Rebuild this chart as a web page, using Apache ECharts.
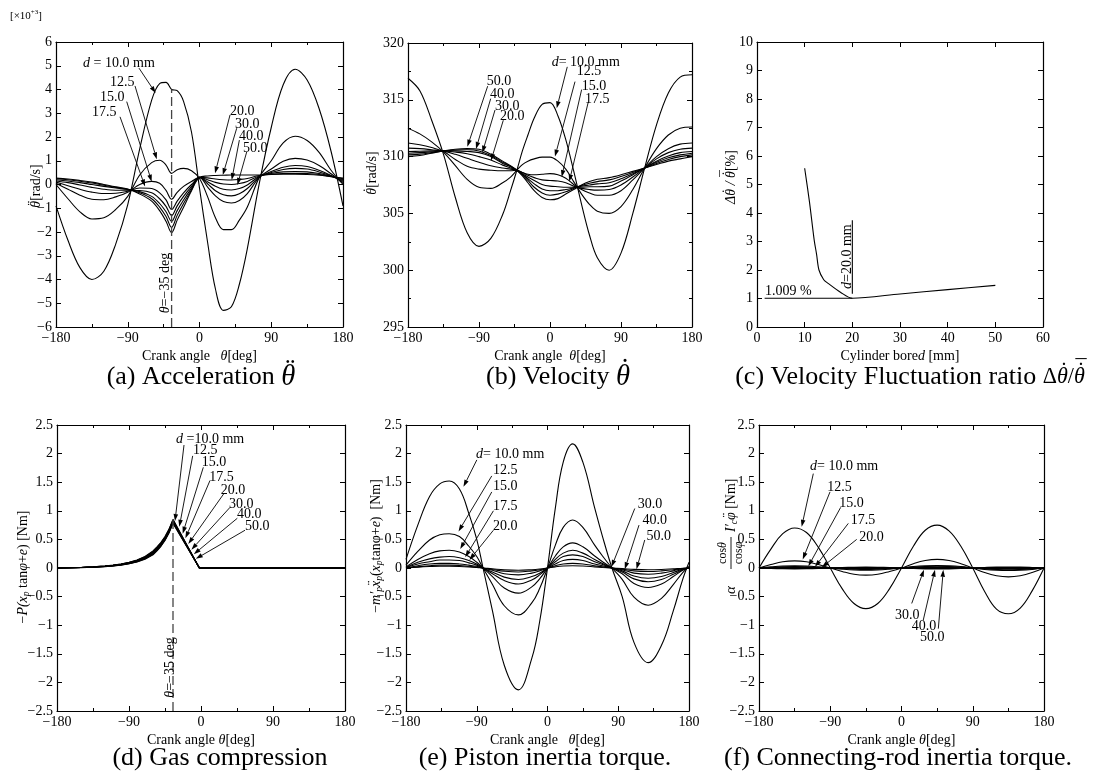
<!DOCTYPE html>
<html>
<head>
<meta charset="utf-8">
<script src="https://cdn.jsdelivr.net/npm/echarts@6/dist/echarts.min.js"></script>
<style>
  html, body { margin: 0; padding: 0; background: #fff; }
  #chart { width: 1099px; height: 776px; }
</style>
</head>
<body>
<div id="chart"></div>
<script>
// crank angle samples [deg]
const thetaAB = [-180,-165,-150,-135,-120,-105,-90,-75,-60,-50,-42,-35,-28,-20,-10,0,10,20,30,40,50,60,75,90,105,120,135,150,165,180];
const thetaD = [-180,-150,-135,-120,-110,-100,-90,-80,-70,-60,-55,-50,-45,-40,-35,-2,180];
const thetaE = [-180,-165,-150,-137,-125,-112,-100,-90,-82,-70,-55,-37,-20,-10,0,10,20,32,45,60,70,82,95,110,128,145,160,172,180];
const thetaF = [-180,-165,-150,-135,-120,-105,-90,-75,-60,-45,-30,-15,0,15,30,45,60,75,90,105,120,135,150,165,180];
const cuspAngle = -35;

// (a) angular acceleration [x10^3 rad/s^2], d = 10 ... 50 mm
const accD10 = [-0.9,-2.35,-3.5,-4.0,-3.65,-2.5,-0.85,1.5,3.55,4.25,4.3,4.0,3.95,3.5,2.2,-0.15,-2.4,-4.4,-5.3,-5.15,-4.2,-2.7,0.05,2.4,4.2,4.85,4.4,3.2,1.4,-0.9];
const accD12 = [0.0,-0.6,-1.15,-1.45,-1.4,-1.05,-0.5,0.4,0.92,1.02,0.82,0.47,0.62,0.68,0.58,0.25,-0.5,-1.4,-1.9,-1.9,-1.5,-0.95,0.3,1.0,1.75,2.03,1.85,1.35,0.6,0.0];
const accD15 = [0.05,-0.2,-0.45,-0.62,-0.64,-0.52,-0.33,0.0,0.13,0.05,-0.25,-0.62,-0.33,-0.08,0.13,0.3,-0.1,-0.48,-0.72,-0.78,-0.67,-0.38,0.3,0.65,0.98,1.1,1.03,0.8,0.45,0.05];
const accD17 = [0.1,-0.05,-0.2,-0.32,-0.38,-0.37,-0.28,-0.15,-0.17,-0.35,-0.65,-1.05,-0.7,-0.35,0.0,0.3,0.03,-0.26,-0.43,-0.48,-0.39,-0.17,0.32,0.55,0.73,0.8,0.76,0.6,0.38,0.1];
const accD20 = [0.15,0.08,-0.02,-0.12,-0.2,-0.24,-0.24,-0.25,-0.35,-0.6,-0.92,-1.3,-0.9,-0.5,-0.08,0.3,0.12,-0.07,-0.2,-0.23,-0.17,-0.02,0.34,0.5,0.63,0.68,0.65,0.53,0.37,0.15];
const accD30 = [0.2,0.15,0.08,0.0,-0.08,-0.15,-0.21,-0.3,-0.5,-0.8,-1.15,-1.55,-1.1,-0.65,-0.15,0.3,0.2,0.09,0.02,0.0,0.04,0.13,0.36,0.46,0.53,0.55,0.53,0.46,0.35,0.2];
const accD40 = [0.24,0.2,0.14,0.06,-0.03,-0.12,-0.2,-0.35,-0.6,-0.95,-1.35,-1.8,-1.3,-0.8,-0.22,0.3,0.28,0.23,0.2,0.19,0.21,0.25,0.38,0.43,0.46,0.47,0.46,0.42,0.34,0.24];
const accD50 = [0.27,0.23,0.17,0.1,0.0,-0.1,-0.19,-0.4,-0.7,-1.1,-1.55,-2.03,-1.5,-0.96,-0.26,0.3,0.36,0.38,0.39,0.4,0.4,0.4,0.4,0.42,0.43,0.43,0.42,0.39,0.33,0.27];

// (b) angular velocity [rad/s]
const velD10 = [316.9,315.8,313.2,310.2,306.4,303.3,302.1,302.8,304.9,307.0,308.8,310.5,311.9,313.4,314.6,314.75,313.6,311.5,308.75,305.8,303.1,301.1,300.0,301.5,305.0,309.0,312.8,315.6,317.0,317.2];
const velD12 = [312.5,312.0,311.3,310.4,309.2,308.0,307.3,307.2,307.7,308.2,308.8,309.3,309.6,309.8,309.95,309.95,309.6,308.9,307.8,306.7,305.8,305.2,305.0,305.6,307.1,309.0,310.7,311.9,312.5,312.6];
const velD15 = [311.2,311.05,310.8,310.45,309.75,309.15,308.9,308.8,308.75,308.75,308.8,308.6,308.45,308.4,308.45,308.5,308.4,308.1,307.55,307.1,306.8,306.6,306.6,307.0,307.95,309.0,310.0,310.7,311.1,311.2];
const velD17 = [310.75,310.7,310.6,310.48,310.2,309.85,309.5,309.2,309.0,308.9,308.8,308.6,308.35,308.15,307.95,307.9,307.85,307.7,307.4,307.2,307.1,307.05,307.1,307.5,308.2,309.0,309.8,310.35,310.65,310.75];
const velD20 = [310.45,310.47,310.5,310.5,310.4,310.25,310.0,309.7,309.25,309.0,308.8,308.5,308.2,307.9,307.55,307.4,307.35,307.3,307.3,307.3,307.35,307.35,307.4,307.85,308.4,309.0,309.6,310.05,310.35,310.45];
const velD30 = [310.3,310.35,310.42,310.5,310.5,310.45,310.35,310.0,309.4,309.1,308.8,308.45,308.05,307.6,307.15,307.0,307.0,307.1,307.25,307.4,307.5,307.6,307.7,308.05,308.5,309.0,309.5,309.9,310.15,310.3];
const velD40 = [310.15,310.22,310.35,310.5,310.58,310.6,310.5,310.1,309.5,309.15,308.8,308.4,307.9,307.3,306.8,306.6,306.7,306.9,307.2,307.45,307.65,307.8,307.95,308.25,308.6,309.0,309.4,309.75,310.0,310.15];
const velD50 = [310.0,310.1,310.3,310.5,310.65,310.7,310.65,310.2,309.6,309.2,308.8,308.3,307.7,307.0,306.4,306.2,306.3,306.7,307.1,307.5,307.8,308.0,308.15,308.4,308.7,309.0,309.3,309.6,309.8,310.0];

// (c) velocity fluctuation ratio vs cylinder bore
const boreMm = [10, 11, 12, 12.5, 13, 14, 15, 17.5, 20, 30, 40, 50];
const fluctPct = [5.57, 4.4, 3.05, 2.55, 2.0, 1.66, 1.52, 1.22, 1.009, 1.16, 1.31, 1.46];
const minRatio = 1.009;
const bestBore = 20;

// (d) gas compression torque [Nm]
const gasD10 = [0,0.01,0.02,0.035,0.05,0.07,0.1,0.14,0.2,0.3,0.37,0.45,0.55,0.68,0.85,0,0];
const gasD12 = [0,0.01,0.02,0.034,0.048,0.068,0.097,0.136,0.195,0.29,0.36,0.44,0.54,0.67,0.84,0,0];
const gasD15 = [0,0.01,0.019,0.032,0.046,0.065,0.093,0.13,0.187,0.28,0.35,0.43,0.53,0.66,0.83,0,0];
const gasD17 = [0,0.009,0.018,0.03,0.043,0.062,0.089,0.125,0.18,0.27,0.34,0.42,0.52,0.65,0.82,0,0];
const gasD20 = [0,0.009,0.017,0.029,0.041,0.059,0.085,0.12,0.173,0.26,0.33,0.41,0.51,0.64,0.81,0,0];
const gasD30 = [0,0.008,0.016,0.027,0.039,0.056,0.081,0.115,0.166,0.25,0.32,0.4,0.5,0.63,0.8,0,0];
const gasD40 = [0,0.008,0.015,0.026,0.037,0.053,0.077,0.11,0.16,0.24,0.31,0.39,0.49,0.62,0.79,0,0];
const gasD50 = [0,0.007,0.014,0.024,0.035,0.05,0.073,0.105,0.153,0.23,0.3,0.38,0.48,0.61,0.78,0,0];

// (e) piston inertia torque [Nm]
const pisD10 = [0.15,0.75,1.25,1.47,1.52,1.38,0.95,0.5,0,-0.75,-1.7,-2.13,-1.58,-0.94,0,1.05,1.85,2.17,1.85,1.05,0.55,0,-0.5,-1.3,-1.655,-1.35,-0.75,-0.2,0.1];
const pisD12 = [0.05,0.29,0.49,0.58,0.6,0.55,0.38,0.2,0,-0.29,-0.66,-0.82,-0.61,-0.36,0,0.4,0.71,0.84,0.71,0.4,0.21,0,-0.2,-0.51,-0.65,-0.53,-0.29,-0.08,0.03];
const pisD15 = [0.02,0.15,0.25,0.3,0.31,0.28,0.2,0.1,0,-0.15,-0.35,-0.44,-0.33,-0.19,0,0.21,0.37,0.44,0.37,0.21,0.11,0,-0.1,-0.27,-0.34,-0.28,-0.15,-0.04,0.01];
const pisD17 = [0.01,0.1,0.16,0.19,0.2,0.18,0.13,0.07,0,-0.1,-0.22,-0.28,-0.21,-0.12,0,0.15,0.26,0.31,0.26,0.15,0.08,0,-0.07,-0.19,-0.24,-0.2,-0.11,-0.03,0.01];
const pisD20 = [0.01,0.07,0.11,0.14,0.14,0.13,0.09,0.05,0,-0.07,-0.16,-0.2,-0.15,-0.09,0,0.11,0.2,0.23,0.2,0.11,0.06,0,-0.05,-0.14,-0.18,-0.15,-0.08,-0.02,0];
const pisD30 = [0,0.04,0.07,0.08,0.08,0.07,0.05,0.03,0,-0.04,-0.1,-0.12,-0.09,-0.05,0,0.07,0.13,0.15,0.13,0.07,0.04,0,-0.03,-0.09,-0.11,-0.09,-0.05,-0.01,0];
const pisD40 = [0,0.02,0.04,0.05,0.05,0.045,0.03,0.015,0,-0.025,-0.055,-0.07,-0.05,-0.03,0,0.04,0.07,0.08,0.07,0.04,0.02,0,-0.02,-0.05,-0.06,-0.05,-0.03,-0.01,0];
const pisD50 = [0,0.015,0.025,0.03,0.03,0.027,0.02,0.01,0,-0.014,-0.032,-0.04,-0.03,-0.018,0,0.02,0.034,0.04,0.034,0.02,0.01,0,-0.01,-0.024,-0.03,-0.025,-0.014,-0.004,0];

// (f) connecting-rod inertia torque [Nm]
const rodD10 = [0,0.33,0.6,0.7,0.62,0.36,0,-0.36,-0.62,-0.71,-0.62,-0.36,0,0.38,0.66,0.75,0.65,0.38,0,-0.41,-0.72,-0.8,-0.7,-0.4,0];
const rodD12 = [0,0.06,0.11,0.125,0.11,0.06,0,-0.06,-0.11,-0.125,-0.11,-0.06,0,0.075,0.13,0.15,0.13,0.075,0,-0.08,-0.135,-0.155,-0.135,-0.08,0];
const rodD15 = [0,0.02,0.035,0.04,0.035,0.02,0,-0.02,-0.035,-0.04,-0.035,-0.02,0,0.025,0.04,0.045,0.04,0.025,0,-0.025,-0.04,-0.045,-0.04,-0.025,0];
const rodD17 = [0,0.01,0.02,0.025,0.02,0.01,0,-0.01,-0.02,-0.025,-0.02,-0.01,0,0.015,0.025,0.03,0.025,0.015,0,-0.015,-0.025,-0.03,-0.025,-0.015,0];
const rodD20 = [0,0.008,0.013,0.015,0.013,0.008,0,-0.008,-0.013,-0.015,-0.013,-0.008,0,0.009,0.015,0.018,0.015,0.009,0,-0.009,-0.016,-0.018,-0.016,-0.009,0];
const rodD30 = [0,0.004,0.007,0.008,0.007,0.004,0,-0.004,-0.007,-0.008,-0.007,-0.004,0,0.005,0.008,0.009,0.008,0.005,0,-0.005,-0.008,-0.009,-0.008,-0.005,0];
const rodD40 = [0,-0.004,-0.007,-0.008,-0.007,-0.004,0,0.004,0.007,0.008,0.007,0.004,0,-0.005,-0.008,-0.009,-0.008,-0.005,0,0.005,0.008,0.009,0.008,0.005,0];
const rodD50 = [0,-0.008,-0.013,-0.015,-0.013,-0.008,0,0.008,0.013,0.015,0.013,0.008,0,-0.009,-0.015,-0.018,-0.015,-0.009,0,0.009,0.016,0.018,0.016,0.009,0];

const SERIF = '"Liberation Serif", "Times New Roman", serif';

const grids = [
  { left: 56, top: 42, width: 287, height: 285 },
  { left: 408, top: 43, width: 284, height: 284 },
  { left: 757, top: 42, width: 286, height: 285 },
  { left: 57, top: 425, width: 288, height: 286 },
  { left: 406, top: 425, width: 283, height: 286 },
  { left: 759, top: 425, width: 285, height: 286 }
];
// [min, max, interval, minor split]
const axisSpec = [
  { x: [-180, 180, 90, 2], y: [-6, 6, 1, 0] },
  { x: [-180, 180, 90, 2], y: [295, 320, 5, 2] },
  { x: [0, 60, 10, 0], y: [0, 10, 1, 0] },
  { x: [-180, 180, 90, 2], y: [-2.5, 2.5, 0.5, 0] },
  { x: [-180, 180, 90, 2], y: [-2.5, 2.5, 0.5, 0] },
  { x: [-180, 180, 90, 2], y: [-2.5, 2.5, 0.5, 0] }
];

const fmt = v => String(v).replace('-', '\u2212');

function makeAxis(gi, r, position, labels) {
  return {
    gridIndex: gi, type: 'value', position: position,
    min: r[0], max: r[1], interval: r[2],
    splitLine: { show: false },
    axisLine: { show: true, onZero: false, lineStyle: { color: '#000', width: 1.2 } },
    axisTick: { show: true, inside: true, length: 5, lineStyle: { color: '#000', width: 1 } },
    minorTick: r[3] ? { show: true, splitNumber: r[3], length: 3, lineStyle: { color: '#000', width: 1 } } : { show: false },
    axisLabel: {
      show: labels, color: '#000', fontFamily: SERIF, fontSize: 14, margin: 4,
      showMinLabel: true, showMaxLabel: true, formatter: fmt
    }
  };
}

const xAxis = [], yAxis = [];
axisSpec.forEach((s, gi) => {
  xAxis.push(makeAxis(gi, s.x, 'bottom', true), makeAxis(gi, s.x, 'top', false));
  yAxis.push(makeAxis(gi, s.y, 'left', true), makeAxis(gi, s.y, 'right', false));
});

function curves(gi, xs, list, smooth) {
  return list.map(vals => ({
    type: 'line', xAxisIndex: gi * 2, yAxisIndex: gi * 2,
    data: xs.map((t, k) => [t, vals[k]]),
    symbol: 'none', showSymbol: false, smooth: smooth, silent: true,
    lineStyle: { color: '#000', width: 1.1 }
  }));
}

function refLine(gi, pts, dashed) {
  return {
    type: 'line', xAxisIndex: gi * 2, yAxisIndex: gi * 2, data: pts,
    symbol: 'none', silent: true,
    lineStyle: { color: dashed ? '#444' : '#000', width: dashed ? 1.3 : 1.1, type: dashed ? [9, 4] : 'solid' }
  };
}

const series = [].concat(
  curves(0, thetaAB, [accD10, accD12, accD15, accD17, accD20, accD30, accD40, accD50], 0.35),
  [refLine(0, [[cuspAngle, -6], [cuspAngle, 4.0]], true)],
  curves(1, thetaAB, [velD10, velD12, velD15, velD17, velD20, velD30, velD40, velD50], 0.35),
  curves(2, boreMm, [fluctPct], 0.3),
  [refLine(2, [[1.6, minRatio], [bestBore, minRatio]], false),
   refLine(2, [[bestBore, 1.17], [bestBore, 3.75]], false)],
  curves(3, thetaD, [gasD10, gasD12, gasD15, gasD17, gasD20, gasD30, gasD40, gasD50], false),
  [refLine(3, [[cuspAngle, -2.5], [cuspAngle, 0.85]], true)],
  curves(4, thetaE, [pisD10, pisD12, pisD15, pisD17, pisD20, pisD30, pisD40, pisD50], 0.4),
  curves(5, thetaF, [rodD10, rodD12, rodD15, rodD17, rodD20, rodD30, rodD40, rodD50], 0.4)
);

const chart = echarts.init(document.getElementById('chart'));
chart.setOption({
  animation: false,
  backgroundColor: '#fff',
  grid: grids.map(g => Object.assign({ containLabel: false, outerBoundsMode: 'none' }, g)),
  xAxis: xAxis,
  yAxis: yAxis,
  series: series
});

// ---- annotations (label position, arrow start, arrow tip in data units) ----
const notes = [
  [0, '{i|d} = 10.0 mm', [-146, 5.12], [-75.9, 4.9], [-55, 3.85]],
  [0, '12.5', [-112.2, 4.32], [-80.9, 4.15], [-53.6, 1.06]],
  [0, '15.0', [-124.8, 3.68], [-91.3, 3.49], [-60, 0.12]],
  [0, '17.5', [-134.8, 3.05], [-99.7, 2.85], [-68.3, -0.08]],
  [0, '20.0', [38.3, 3.09], [38.3, 2.93], [19.5, 0.47]],
  [0, '30.0', [44.6, 2.55], [46.7, 2.37], [29.2, 0.4]],
  [0, '40.0', [49.6, 2.04], [50, 1.87], [40.4, 0.19]],
  [0, '50.0', [54.6, 1.54], [59.3, 1.38], [47.5, -0.02]],
  [1, '{i|d}= 10.0 mm', [2.1, 318.27], [21.9, 317.9], [8.5, 314.25]],
  [1, '12.5', [33.8, 317.47], [31.7, 316.6], [6.3, 310.0]],
  [1, '15.0', [40.2, 316.2], [40.1, 315.9], [14.8, 308.2]],
  [1, '17.5', [44.3, 315.04], [48.5, 314.8], [24.4, 307.8]],
  [1, '50.0', [-80.3, 316.6], [-79, 316.2], [-104.8, 310.87]],
  [1, '40.0', [-76.1, 315.48], [-75.2, 315.1], [-93.8, 310.67]],
  [1, '30.0', [-69.7, 314.45], [-69.7, 314.1], [-85.8, 310.34]],
  [1, '20.0', [-63.4, 313.57], [-59.2, 313.2], [-74.8, 309.64]],
  [2, '1.009 %', [1.68, 1.24], null, null],
  [3, '{i|d} =10.0 mm', [-31.25, 2.25], [-21.25, 2.15], [-32.5, 0.82]],
  [3, '12.5', [-10, 2.05], [-10.4, 1.96], [-27.1, 0.72]],
  [3, '15.0', [0.9, 1.84], [2.9, 1.76], [-22.9, 0.6]],
  [3, '17.5', [10.4, 1.59], [11.25, 1.53], [-19.5, 0.52]],
  [3, '20.0', [24.6, 1.36], [29.1, 1.31], [-15.9, 0.42]],
  [3, '30.0', [35, 1.12], [36.25, 1.06], [-12, 0.32]],
  [3, '40.0', [45, 0.93], [45.4, 0.87], [-9, 0.24]],
  [3, '50.0', [55, 0.72], [55, 0.66], [-6.5, 0.16]],
  [4, '{i|d}= 10.0 mm', [-90.8, 1.99], [-89.9, 1.89], [-106.9, 1.42]],
  [4, '12.5', [-69.2, 1.71], [-70.9, 1.61], [-113.2, 0.64]],
  [4, '15.0', [-69.2, 1.42], [-70.9, 1.33], [-111, 0.33]],
  [4, '17.5', [-69.2, 1.07], [-68.8, 1.0], [-104.7, 0.19]],
  [4, '20.0', [-69.2, 0.72], [-68.8, 0.66], [-99.3, 0.14]],
  [4, '30.0', [114.8, 1.12], [111, 1.04], [81.4, 0.02]],
  [4, '40.0', [120.8, 0.84], [116.4, 0.75], [98.3, -0.02]],
  [4, '50.0', [125.8, 0.55], [123.7, 0.49], [113.2, -0.02]],
  [5, '{i|d}= 10.0 mm', [-115.6, 1.77], [-111.4, 1.65], [-126.1, 0.72]],
  [5, '12.5', [-93.7, 1.41], [-90.3, 1.33], [-124.8, 0.15]],
  [5, '15.0', [-78.6, 1.13], [-76.8, 1.06], [-117.7, 0.03]],
  [5, '17.5', [-64.2, 0.84], [-67.2, 0.78], [-109.3, 0.02]],
  [5, '20.0', [-53.3, 0.54], [-56.6, 0.5], [-100.8, 0.01]],
  [5, '30.0', [-8.2, -0.83], [12.9, -0.62], [28.4, -0.03]],
  [5, '40.0', [12.9, -1.02], [27.5, -0.91], [42.3, -0.03]],
  [5, '50.0', [23.4, -1.21], [46.5, -1.06], [52.8, -0.03]]
];
// rotated labels inside plots: [grid, text, centre]
const vnotes = [
  [0, '{i|θ}=\u221235 deg', [-43.2, -4.15]],
  [3, '{i|θ}=\u221235 deg', [-38.75, -1.74]],
  [2, '{i|d}=20.0 mm', [18.94, 2.47]]
];

function rich(size) {
  const sub = Math.round(size * 0.68);
  return {
    i: { fontFamily: SERIF, fontSize: size, fontStyle: 'italic', lineHeight: size + 4 },
    s: { fontFamily: SERIF, fontSize: sub, fontStyle: 'italic', verticalAlign: 'bottom', lineHeight: sub },
    u: { fontFamily: SERIF, fontSize: sub, verticalAlign: 'top', lineHeight: sub }
  };
}
function text(x, y, str, size, align, rot) {
  return {
    type: 'text', x: x, y: y, rotation: rot || 0, silent: true, z: 100,
    style: {
      text: str, fill: '#000', fontFamily: SERIF, fontSize: size,
      align: align || 'left', verticalAlign: 'middle', lineHeight: size + 4, rich: rich(size)
    }
  };
}

// run of text pieces laid out side by side; pieces may carry dots/bars above them
// piece: [text, italic, marks, scale, dy]
const mctx = document.createElement('canvas').getContext('2d');
function widthOf(s, size, it) {
  mctx.font = (it ? 'italic ' : '') + size + 'px ' + SERIF;
  return mctx.measureText(s).width;
}
function compose(x, y, pieces, size, rot, align) {
  const items = pieces.map(p => {
    const sz = size * (p[3] || 1);
    return { t: p[0], it: !!p[1], mk: p[2], sz: sz, dy: (p[4] || 0) * size, w: widthOf(p[0], sz, !!p[1]) };
  });
  const total = items.reduce((a, b) => a + b.w, 0);
  let cur = align === 'left' ? 0 : -total / 2;
  const children = [];
  items.forEach(it => {
    children.push({ type: 'text', x: cur, y: it.dy, style: {
      text: it.t, fill: '#000', fontFamily: SERIF, fontSize: it.sz,
      fontStyle: it.it ? 'italic' : 'normal', align: 'left', verticalAlign: 'middle' } });
    if (it.mk) {
      [].concat(it.mk).forEach((m, j) => children.push({ type: 'text',
        x: cur + it.w / 2 + it.sz * 0.07, y: it.dy - it.sz * (0.2 + 0.1 * j),
        style: { text: m, fill: '#000', fontFamily: SERIF, fontSize: it.sz, align: 'center', verticalAlign: 'middle' } }));
    }
    cur += it.w;
  });
  return { type: 'group', x: x, y: y, rotation: rot || 0, silent: true, z: 100, children: children };
}

function arrow(a, b) {
  const dx = b[0] - a[0], dy = b[1] - a[1], len = Math.hypot(dx, dy);
  const ux = dx / len, uy = dy / len, L = 7, W = 2.3;
  const bx = b[0] - ux * L, by = b[1] - uy * L;
  return [
    { type: 'line', silent: true, z: 100, shape: { x1: a[0], y1: a[1], x2: bx, y2: by }, style: { stroke: '#000', lineWidth: 0.9 } },
    { type: 'polygon', silent: true, z: 100, shape: { points: [[b[0], b[1]], [bx - uy * W, by + ux * W], [bx + uy * W, by - ux * W]] }, style: { fill: '#000' } }
  ];
}
const toPx = (gi, p) => [
  chart.convertToPixel({ xAxisIndex: gi * 2 }, p[0]),
  chart.convertToPixel({ yAxisIndex: gi * 2 }, p[1])
];

const graphic = [];
notes.forEach(([gi, str, at, from, to]) => {
  const p = toPx(gi, at);
  graphic.push(text(p[0], p[1], str, 14, 'left'));
  if (from) graphic.push.apply(graphic, arrow(toPx(gi, from), toPx(gi, to)));
});
vnotes.forEach(([gi, str, at]) => {
  const p = toPx(gi, at);
  graphic.push(text(p[0], p[1], str, 14, 'center', Math.PI / 2));
});

// axis titles
const cx = g => g.left + g.width / 2;
const xNames = ['Crank angle   {i|θ}[deg]', 'Crank angle  {i|θ}[deg]', 'Cylinder bore{i|d} [mm]',
                'Crank angle {i|θ}[deg]', 'Crank angle   {i|θ}[deg]', 'Crank angle {i|θ}[deg]'];
grids.forEach((g, i) => graphic.push(text(cx(g), g.top + g.height + 29, xNames[i], 14, 'center')));

const R = Math.PI / 2;
const DOT = '\u02D9', DDOT = '\u00A8', BAR = '\u00AF';
graphic.push(
  compose(36, 186, [['θ', 1, DDOT], ['[rad/s]', 0]], 14, R),
  compose(372, 173, [['θ', 1, DOT], ['[rad/s]', 0]], 14, R),
  compose(731, 177, [['Δ', 1], ['θ', 1, DOT], [' / ', 1], ['θ', 1, [DOT, BAR]], ['[%]', 0]], 14, R),
  compose(23, 567, [['\u2212', 0], ['P', 1], ['(x', 1], ['p', 1, null, 0.68, 0.28], [' tan', 0], ['φ', 1], ['+', 0], ['e', 1], [') [Nm]', 0]], 14, R),
  compose(376, 546, [['\u2212', 0], ['m′', 1], ['p', 1, null, 0.68, 0.28], ['x', 1, DDOT], ['p', 1, null, 0.68, 0.28],
                     ['(', 0], ['x', 1], ['p', 1, null, 0.68, 0.28], ['tanφ+', 0], ['e', 1], [')  [Nm]', 0]], 14, R),
  text(10, 16, '[×10{u|+3}]', 11, 'left')
);
// (f) y title with a stacked fraction
graphic.push({
  type: 'group', x: 731, y: 537, rotation: R, silent: true,
  children: [
    text(-57, 0, '{i|α}', 15, 'left'),
    text(-16, -8, 'cos{i|θ}', 12, 'center'),
    { type: 'line', shape: { x1: -32, y1: 0, x2: 0, y2: 0 }, style: { stroke: '#000', lineWidth: 0.9 } },
    text(-16, 8, 'cos{i|φ}', 12, 'center'),
    compose(5, 0, [['I′', 1], ['c', 1, null, 0.68, 0.28], ['φ', 1, DDOT], [' [Nm]', 0]], 14, 0, 'left')
  ]
});

// captions
graphic.push(
  compose(201, 377, [['(a) Acceleration ', 0], ['θ', 1, DDOT, 1.1]], 26),
  compose(558, 377, [['(b) Velocity ', 0], ['θ', 1, DOT, 1.1]], 26),
  compose(910, 377, [['(c) Velocity Fluctuation ratio ', 0], ['Δ', 0, null, 0.85], ['θ', 1, DOT, 0.85],
                     ['/', 0, null, 0.85], ['θ', 1, [DOT, BAR], 0.85]], 26),
  text(220, 758, '(d) Gas compression', 26, 'center'),
  text(545, 758, '(e) Piston inertia torque.', 26, 'center'),
  text(898, 758, '(f) Connecting-rod inertia torque.', 26, 'center')
);

chart.setOption({ graphic: graphic });
</script>
</body>
</html>
